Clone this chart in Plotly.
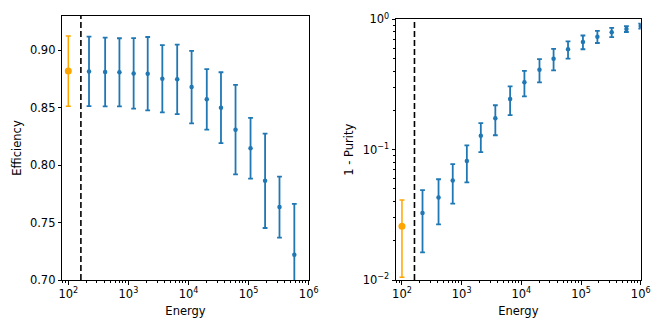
"""Efficiency and impurity versus energy, two log-x panels."""

import plotly.graph_objects as go
from plotly.subplots import make_subplots

# bin centres (energy)
energy = [221, 410, 709, 1222, 2095, 3668, 6485, 11260, 20140, 34700,
          60600, 107700, 188000, 326600, 576600, 1000000]

# efficiency per bin (last bin falls below the shown range)
efficiency = [0.8817, 0.8812, 0.8809, 0.8800, 0.8797, 0.8754, 0.8748, 0.8681,
              0.8574, 0.8501, 0.8310, 0.8148, 0.7864, 0.7635, 0.7219]
efficiency_err = [0.0303, 0.0300, 0.0297, 0.0307, 0.0320, 0.0293, 0.0303, 0.0316,
                  0.0264, 0.0309, 0.0390, 0.0264, 0.0411, 0.0266, 0.0444]

# 1 - purity per bin
impurity = [0.0326, 0.043, 0.058, 0.082, 0.1276, 0.174, 0.245, 0.329,
            0.411, 0.499, 0.589, 0.670, 0.736, 0.795, 0.843, 0.888]
impurity_err = [0.0163, 0.0163, 0.0195, 0.026, 0.032, 0.045, 0.061, 0.0725,
                0.083, 0.0935, 0.089, 0.081, 0.078, 0.0655, 0.044, 0.039]

# integrated point (orange)
total_energy = [100]
total_efficiency = [0.882]
total_efficiency_err = [0.0306]
total_impurity = [0.0258]
total_impurity_err = [0.0153]

threshold = 162

x_tickvals = [1e2, 1e3, 1e4, 1e5, 1e6]
x_ticktext = ["10<sup>2</sup>", "10<sup>3</sup>", "10<sup>4</sup>", "10<sup>5</sup>", "10<sup>6</sup>"]
eff_tickvals = [0.70, 0.75, 0.80, 0.85, 0.90]
eff_ticktext = ["0.70", "0.75", "0.80", "0.85", "0.90"]
pur_tickvals = [1e-2, 1e-1, 1]
pur_ticktext = ["10<sup>\u22122</sup>", "10<sup>\u22121</sup>", "10<sup>0</sup>"]

BLUE = "#1f77b4"
ORANGE = "#ffa500"
FONT = "DejaVu Sans"
FS = 11.5

fig = make_subplots(rows=1, cols=2)

fig.add_trace(go.Scatter(
    x=energy[:len(efficiency)], y=efficiency, mode="markers",
    marker=dict(color=BLUE, size=4.5),
    error_y=dict(type="data", array=efficiency_err, color=BLUE, thickness=1.8, width=2.4),
    showlegend=False,
), row=1, col=1)
fig.add_trace(go.Scatter(
    x=total_energy, y=total_efficiency, mode="markers",
    marker=dict(color=ORANGE, size=7),
    error_y=dict(type="data", array=total_efficiency_err, color=ORANGE, thickness=1.5, width=2.5),
    showlegend=False,
), row=1, col=1)

fig.add_trace(go.Scatter(
    x=energy, y=impurity, mode="markers",
    marker=dict(color=BLUE, size=4.5),
    error_y=dict(type="data", array=impurity_err, color=BLUE, thickness=1.8, width=2.4),
    showlegend=False,
), row=1, col=2)
fig.add_trace(go.Scatter(
    x=total_energy, y=total_impurity, mode="markers",
    marker=dict(color=ORANGE, size=7),
    error_y=dict(type="data", array=total_impurity_err, color=ORANGE, thickness=1.5, width=2.5),
    showlegend=False,
), row=1, col=2)

for xref, yref in (("x", "y domain"), ("x2", "y2 domain")):
    fig.add_shape(type="line", xref=xref, yref=yref, x0=threshold, x1=threshold, y0=0, y1=1,
                  line=dict(color="black", width=1.6, dash="6px,3px"))

minor_x = [m * 10 ** e for e in range(1, 6) for m in range(2, 10)]
minor_y = [m * 10.0 ** e for e in range(-3, 0) for m in range(2, 10)]

axis_common = dict(
    showline=True, linecolor="black", linewidth=1, mirror=True,
    ticks="outside", ticklen=3.5, tickwidth=1, tickcolor="black",
    showgrid=False, zeroline=False, automargin=False,
    tickfont=dict(family=FONT, size=FS, color="black"),
)
xaxis_common = dict(
    axis_common, type="log", range=[1.9, 6],
    tickmode="array", tickvals=x_tickvals, ticktext=x_ticktext,
    minor=dict(tickmode="array", tickvals=minor_x, ticks="outside", ticklen=2,
               tickcolor="black", tickwidth=0.8, showgrid=False),
    title=dict(text="Energy", font=dict(family=FONT, size=FS, color="black"), standoff=6),
)

fig.update_layout(
    width=664, height=333,
    margin=dict(l=0, r=0, t=0, b=0),
    paper_bgcolor="white", plot_bgcolor="white",
    font=dict(family=FONT, size=FS, color="black"),
    xaxis=dict(xaxis_common, domain=[62.3 / 664, 308.7 / 664]),
    xaxis2=dict(xaxis_common, domain=[396 / 664, 640.7 / 664]),
    yaxis=dict(
        axis_common, range=[0.70, 0.93], domain=[53 / 333, 317 / 333],
        tickmode="array", tickvals=eff_tickvals, ticktext=eff_ticktext,
        title=dict(text="Efficiency", font=dict(family=FONT, size=FS, color="black"), standoff=5),
    ),
    yaxis2=dict(
        axis_common, type="log", range=[-2, 0], domain=[53 / 333, 313.7 / 333],
        tickmode="array", tickvals=pur_tickvals, ticktext=pur_ticktext,
        minor=dict(tickmode="array", tickvals=minor_y, ticks="outside", ticklen=2,
                   tickcolor="black", tickwidth=0.8, showgrid=False),
        title=dict(text="1 - Purity", font=dict(family=FONT, size=FS, color="black"), standoff=6),
    ),
)

# the page body has a default 8px margin; drop it so the figure sits at (0, 0)
fig.write_html("out.html", config={"displayModeBar": False},
               post_script="document.body.style.margin = '0';")
